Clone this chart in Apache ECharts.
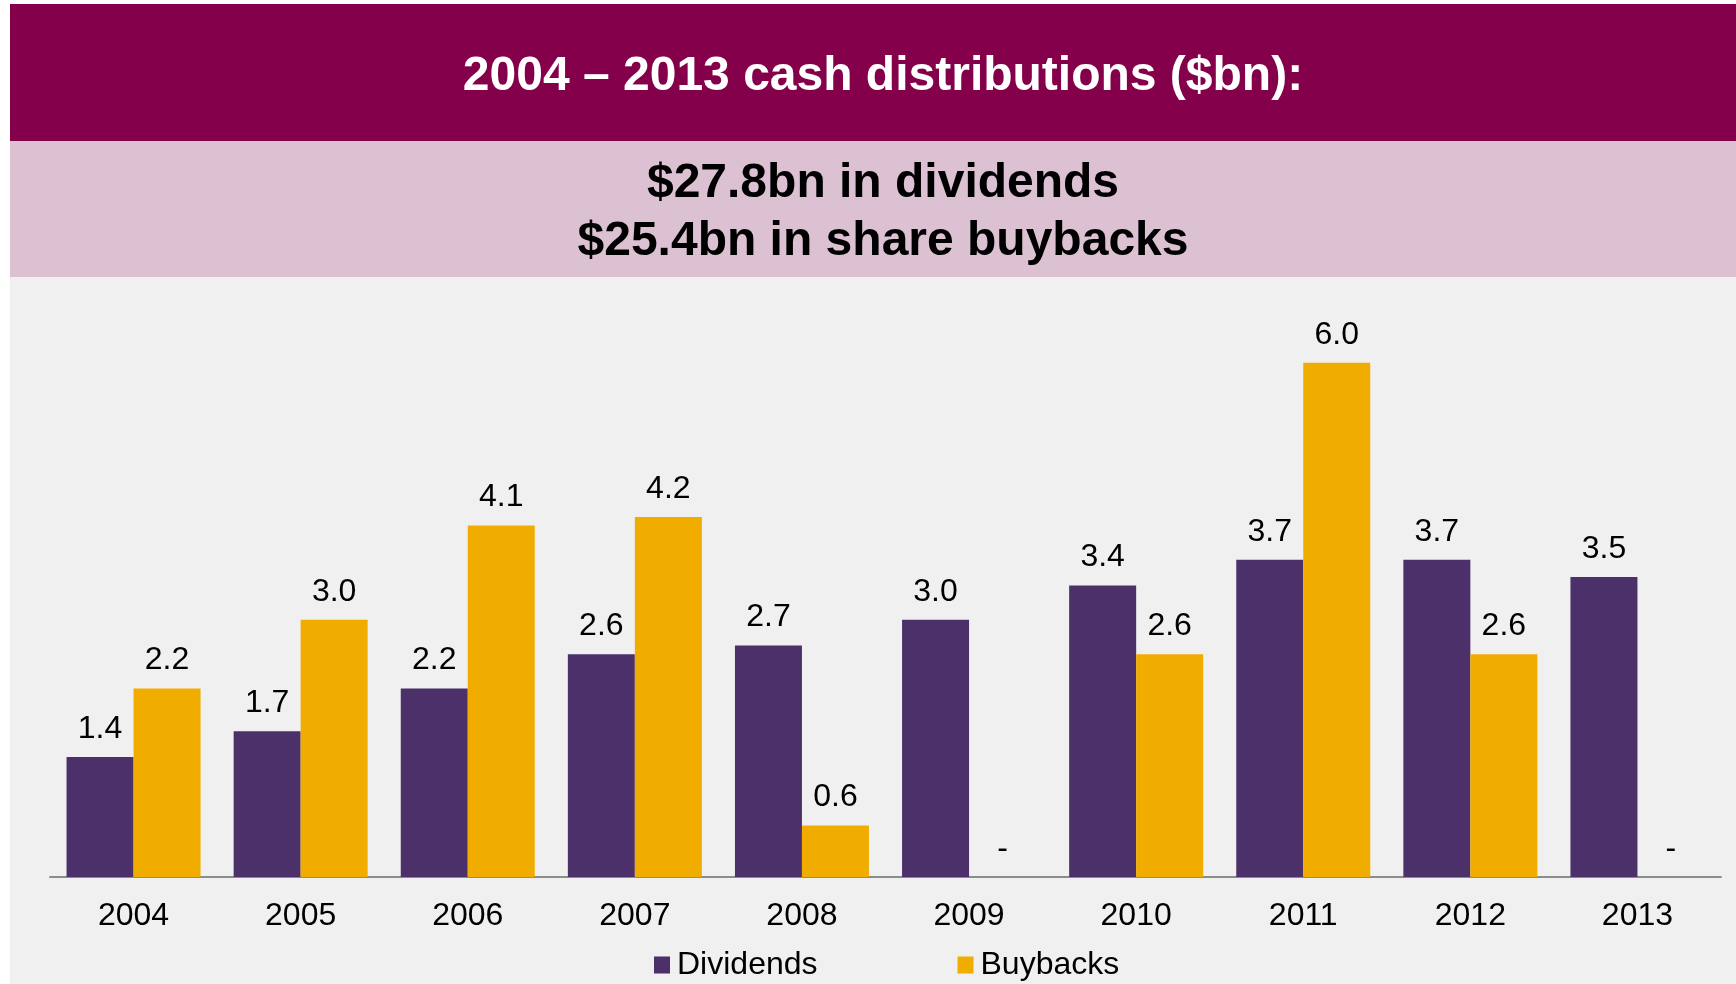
<!DOCTYPE html>
<html>
<head>
<meta charset="utf-8">
<title>2004 – 2013 cash distributions</title>
<script src="https://cdn.jsdelivr.net/npm/echarts@6/dist/echarts.min.js"></script>
<style>
  html, body { margin: 0; padding: 0; background: #ffffff; }
  #chart { width: 1736px; height: 984px; }
</style>
</head>
<body>
<div id="chart"></div>
<script>
// Years on the category axis
const years = ['2004', '2005', '2006', '2007', '2008', '2009', '2010', '2011', '2012', '2013'];
// Cash distributions, $bn
const dividends = [1.4, 1.7, 2.2, 2.6, 2.7, 3.0, 3.4, 3.7, 3.7, 3.5];
const buybacks = [2.2, 3.0, 4.1, 4.2, 0.6, 0, 2.6, 6.0, 2.6, 0];
// Header texts
const headline = '2004 – 2013 cash distributions ($bn):';
const summaryLines = ['$27.8bn in dividends', '$25.4bn in share buybacks'];

const FONT = '"Liberation Sans", Arial, Helvetica, sans-serif';
const chart = echarts.init(document.getElementById('chart'), null, { renderer: 'canvas' });

const valueLabel = {
  show: true,
  position: 'top',
  distance: 12,
  color: '#000000',
  fontFamily: FONT,
  fontSize: 32,
  formatter: p => (p.value === 0 ? '-' : p.value.toFixed(1))
};

chart.setOption({
  backgroundColor: '#ffffff',
  animation: false,
  graphic: [
    // grey panel behind the chart
    { type: 'rect', z: -10, shape: { x: 10, y: 4, width: 1726, height: 980 }, style: { fill: '#F0F0F0' } },
    // headline band
    { type: 'rect', z: -9, shape: { x: 10, y: 4, width: 1726, height: 137 }, style: { fill: '#85004B' } },
    // summary band
    { type: 'rect', z: -9, shape: { x: 10, y: 141, width: 1726, height: 136 }, style: { fill: '#DCC1D3' } },
    {
      type: 'text', x: 883, y: 77, z: 5,
      style: {
        text: headline, fill: '#ffffff', font: 'bold 48px ' + FONT,
        textAlign: 'center', textVerticalAlign: 'middle'
      }
    },
    {
      type: 'text', x: 883, y: 184, z: 5,
      style: {
        text: summaryLines[0], fill: '#000000', font: 'bold 48px ' + FONT,
        textAlign: 'center', textVerticalAlign: 'middle'
      }
    },
    {
      type: 'text', x: 883, y: 242, z: 5,
      style: {
        text: summaryLines[1], fill: '#000000', font: 'bold 48px ' + FONT,
        textAlign: 'center', textVerticalAlign: 'middle'
      }
    }
  ],
  legend: {
    data: ['Dividends', 'Buybacks'],
    left: 649,
    top: 944,
    icon: 'rect',
    itemWidth: 16,
    itemHeight: 17,
    itemGap: 140,
    textStyle: { color: '#000000', fontFamily: FONT, fontSize: 32, padding: [0, 0, 0, 2] }
  },
  grid: { left: 50, right: 15, top: 277, bottom: 107, containLabel: false },
  xAxis: {
    type: 'category',
    data: years,
    axisLine: { show: true, lineStyle: { color: '#8C8C8C', width: 2 } },
    axisTick: { show: false },
    axisLabel: { color: '#000000', fontFamily: FONT, fontSize: 32, margin: 23 }
  },
  yAxis: {
    type: 'value',
    min: 0,
    max: 7,
    show: false,
    splitLine: { show: false }
  },
  series: [
    {
      name: 'Dividends',
      type: 'bar',
      data: dividends,
      barWidth: 67,
      barGap: '0%',
      itemStyle: { color: '#4B306A' },
      label: valueLabel
    },
    {
      name: 'Buybacks',
      type: 'bar',
      data: buybacks,
      barWidth: 67,
      barGap: '0%',
      itemStyle: { color: '#F0AD00' },
      label: valueLabel
    }
  ]
});
</script>
</body>
</html>
